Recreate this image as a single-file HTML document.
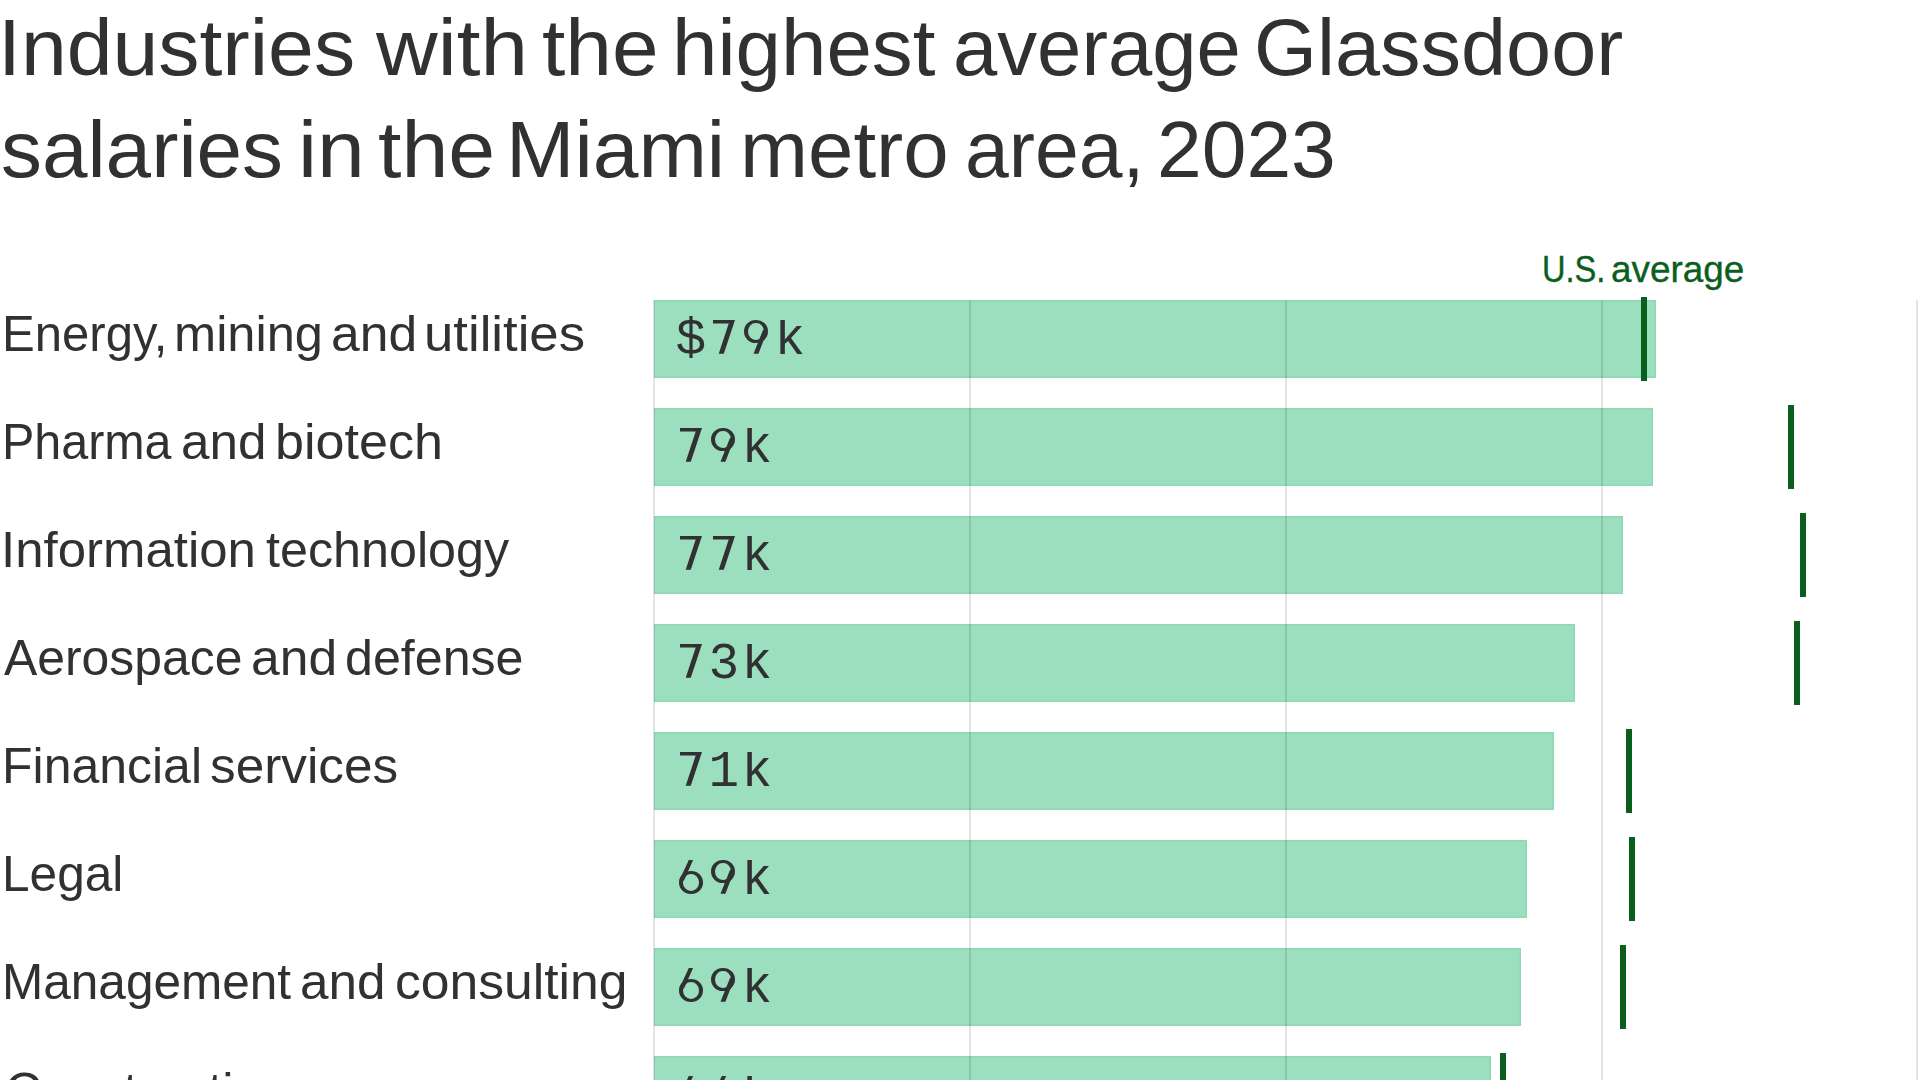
<!DOCTYPE html>
<html>
<head>
<meta charset="utf-8">
<style>
html,body{margin:0;padding:0;background:#fff;}
body{width:1920px;height:1080px;overflow:hidden;position:relative;font-family:"Liberation Sans",sans-serif;color:#313134;}
.t,.lab,.us{position:absolute;white-space:nowrap;transform-origin:0 0;}
.t{font-size:79px;line-height:79px;color:#313134;}
.lab{font-size:49.3px;line-height:49.3px;color:#313134;}
.us{font-size:36.3px;line-height:36.3px;color:#0a5e1e;-webkit-text-stroke:0.35px #0a5e1e;}
.bar{position:absolute;left:654px;height:78px;background:#9bdfbe;box-shadow:inset 0 1.5px 0 #8cd9b2,inset 0 -1.5px 0 #8cd9b2,inset -1.5px 0 0 #8cd9b2;}
.grid{position:absolute;top:300px;bottom:0;width:2px;background:rgba(0,0,0,0.11);}
.val{position:absolute;left:675.5px;white-space:nowrap;font-family:"Liberation Mono",monospace;font-size:51px;line-height:51px;letter-spacing:2.4px;color:#313134;}
.k{display:inline-block;clip-path:inset(5px 0 0 0);}
.d7{display:inline-block;position:relative;color:transparent;}
.d7::after{content:"";position:absolute;left:4.2px;top:5.1px;width:22.3px;height:33.6px;background:#313134;clip-path:polygon(0 0,22.3px 0,11.1px 33.6px,6px 33.6px,16px 3.5px,0 3.5px);}
.d9,.d6{display:inline-block;position:relative;color:transparent;}
.d9::before,.d6::before{content:"";position:absolute;box-sizing:border-box;border-style:solid;border-color:#313134;border-width:3.9px 4.7px;border-radius:50%;}
.d9::after,.d6::after{content:"";position:absolute;left:0;top:0;width:30px;height:40px;background:#313134;}
.d9::before{left:2.75px;top:4.9px;width:23.35px;height:22.9px;}
.d9::after{clip-path:polygon(21.48px 15px,26px 15px,16.9px 38.7px,12px 38.7px);}
.d6::before{left:3.3px;top:16.3px;width:24.3px;height:22.9px;}
.d6::after{clip-path:polygon(13.3px 5px,17.6px 5px,8.5px 25.5px,3.8px 25.5px);}
.mk{position:absolute;width:6px;height:84px;background:#0a5e1e;}
</style>
</head>
<body>
<div class="bar" style="top:300px;width:1002px;"></div>
<div class="bar" style="top:408px;width:999px;"></div>
<div class="bar" style="top:516px;width:969px;"></div>
<div class="bar" style="top:624px;width:921px;"></div>
<div class="bar" style="top:732px;width:900px;"></div>
<div class="bar" style="top:840px;width:873px;"></div>
<div class="bar" style="top:948px;width:867px;"></div>
<div class="bar" style="top:1056px;width:837px;"></div>

<div class="grid" style="left:653px;"></div>
<div class="grid" style="left:969px;"></div>
<div class="grid" style="left:1285px;"></div>
<div class="grid" style="left:1601px;"></div>
<div class="grid" style="left:1916px;"></div>

<div class="mk" style="left:1641px;top:297px;"></div>
<div class="mk" style="left:1788px;top:405px;"></div>
<div class="mk" style="left:1800px;top:513px;"></div>
<div class="mk" style="left:1794px;top:621px;"></div>
<div class="mk" style="left:1626px;top:729px;"></div>
<div class="mk" style="left:1629px;top:837px;"></div>
<div class="mk" style="left:1620px;top:945px;"></div>
<div class="mk" style="left:1500px;top:1053px;"></div>

<div class="val" style="top:315px;">$<span class="d7">7</span><span class="d9">9</span><span class="k">k</span></div>
<div class="val" style="top:423px;"><span class="d7">7</span><span class="d9">9</span><span class="k">k</span></div>
<div class="val" style="top:531px;"><span class="d7">7</span><span class="d7">7</span><span class="k">k</span></div>
<div class="val" style="top:639px;"><span class="d7">7</span>3<span class="k">k</span></div>
<div class="val" style="top:747px;"><span class="d7">7</span>1<span class="k">k</span></div>
<div class="val" style="top:855px;"><span class="d6">6</span><span class="d9">9</span><span class="k">k</span></div>
<div class="val" style="top:963px;"><span class="d6">6</span><span class="d9">9</span><span class="k">k</span></div>
<div class="val" style="top:1071px;"><span class="d6">6</span><span class="d6">6</span><span class="k">k</span></div>

<div class="t" style="left:-2.50px;top:8.00px;transform:scaleX(1.0426)">Industries</div>
<div class="t" style="left:376.00px;top:8.00px;transform:scaleX(1.0815)">with</div>
<div class="t" style="left:541.64px;top:8.00px;transform:scaleX(1.0619)">the</div>
<div class="t" style="left:671.83px;top:8.00px;transform:scaleX(1.0337)">highest</div>
<div class="t" style="left:952.78px;top:8.00px;transform:scaleX(1.0079)">average</div>
<div class="t" style="left:1253.90px;top:8.00px;transform:scaleX(1.0254)">Glassdoor</div>
<div class="t" style="left:0.53px;top:110.00px;transform:scaleX(1.0360)">salaries</div>
<div class="t" style="left:297.96px;top:110.00px;transform:scaleX(1.0882)">in</div>
<div class="t" style="left:377.83px;top:110.00px;transform:scaleX(1.0667)">the</div>
<div class="t" style="left:506.36px;top:110.00px;transform:scaleX(1.0402)">Miami</div>
<div class="t" style="left:740.43px;top:110.00px;transform:scaleX(1.0335)">metro</div>
<div class="t" style="left:965.11px;top:110.00px;transform:scaleX(0.9965)">area,</div>
<div class="t" style="left:1156.73px;top:110.00px;transform:scaleX(1.0173)">2023</div>
<div class="lab" style="left:2.02px;top:309.00px;transform:scaleX(0.9956)">Energy,</div>
<div class="lab" style="left:173.62px;top:309.00px;transform:scaleX(1.0259)">mining</div>
<div class="lab" style="left:330.61px;top:309.00px;transform:scaleX(1.0468)">and</div>
<div class="lab" style="left:424.09px;top:309.00px;transform:scaleX(1.0685)">utilities</div>
<div class="lab" style="left:1.77px;top:417.00px;transform:scaleX(0.9822)">Pharma</div>
<div class="lab" style="left:181.22px;top:417.00px;transform:scaleX(1.0390)">and</div>
<div class="lab" style="left:275.13px;top:417.00px;transform:scaleX(1.0569)">biotech</div>
<div class="lab" style="left:0.53px;top:525.00px;transform:scaleX(1.0335)">Information</div>
<div class="lab" style="left:265.68px;top:525.00px;transform:scaleX(1.0194)">technology</div>
<div class="lab" style="left:4.30px;top:633.00px;transform:scaleX(1.0116)">Aerospace</div>
<div class="lab" style="left:250.61px;top:633.00px;transform:scaleX(1.0468)">and</div>
<div class="lab" style="left:344.66px;top:633.00px;transform:scaleX(1.0175)">defense</div>
<div class="lab" style="left:1.65px;top:741.00px;transform:scaleX(1.0137)">Financial</div>
<div class="lab" style="left:209.62px;top:741.00px;transform:scaleX(1.0412)">services</div>
<div class="lab" style="left:1.58px;top:849.00px;transform:scaleX(1.0062)">Legal</div>
<div class="lab" style="left:1.68px;top:957.00px;transform:scaleX(1.0046)">Management</div>
<div class="lab" style="left:299.62px;top:957.00px;transform:scaleX(1.0390)">and</div>
<div class="lab" style="left:394.61px;top:957.00px;transform:scaleX(1.0475)">consulting</div>
<div class="lab" style="left:5.24px;top:1066.00px;transform:scaleX(1.0300)">Construction</div>
<div class="us" style="left:1542.40px;top:252.00px;transform:scaleX(0.8984)">U.S.</div>
<div class="us" style="left:1610.87px;top:252.00px;transform:scaleX(1.0164)">average</div>
</body>
</html>
